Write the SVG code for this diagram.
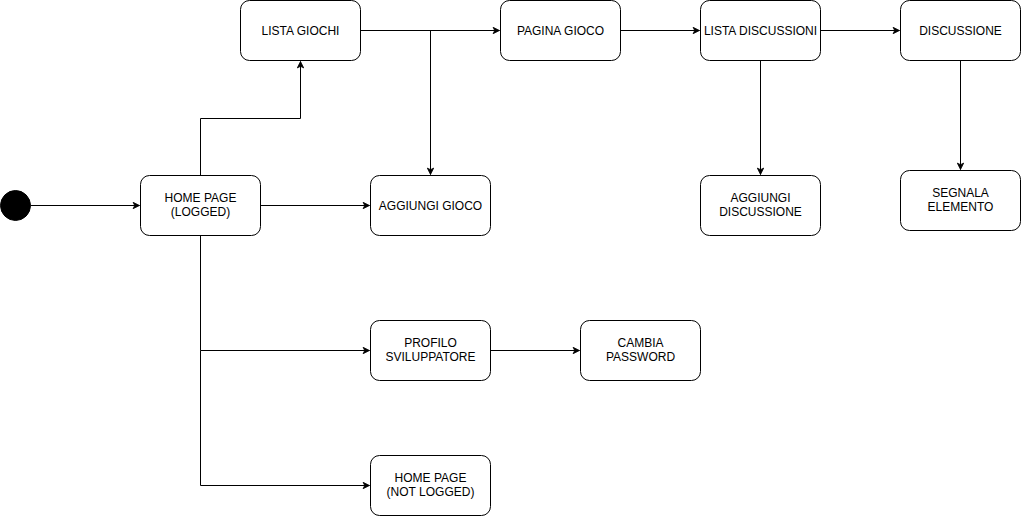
<svg xmlns="http://www.w3.org/2000/svg" width="1021" height="516" viewBox="0 0 1021 516">
  <style>
    .node rect { fill: #ffffff; stroke: #000000; stroke-width: 1; }
    .node text { font-family: "Liberation Sans", Arial, sans-serif; font-size: 12px; fill: #000000; text-anchor: middle; }
    .edges path { fill: none; stroke: #000000; stroke-width: 1; marker-end: url(#arrow); }
  </style>
  <defs>
    <marker id="arrow" viewBox="0 0 10 10" refX="9" refY="5" markerWidth="8" markerHeight="8" markerUnits="userSpaceOnUse" orient="auto">
      <path d="M1,1 L9,5 L1,9 L3,5 Z" fill="#000000" stroke="#000000" stroke-width="1"/>
    </marker>
  </defs>

  <rect width="1021" height="516" fill="#ffffff"/>

  <g class="edges" id="connectors">
    <path d="M30.5,205.5 L139.5,205.5"/>
    <path d="M200.5,175.5 L200.5,118.5 L300.5,118.5 L300.5,61.5"/>
    <path d="M260.5,205.5 L369.5,205.5"/>
    <path d="M360.5,30.5 L499.5,30.5"/>
    <path d="M430.5,30.5 L430.5,174.5"/>
    <path d="M620.5,30.5 L699.5,30.5"/>
    <path d="M820.5,30.5 L899.5,30.5"/>
    <path d="M760.5,60.5 L760.5,174.5"/>
    <path d="M960.5,60.5 L960.5,169.5"/>
    <path d="M200.5,235.5 L200.5,350.5 L369.5,350.5"/>
    <path d="M200.5,350.5 L200.5,485.5 L369.5,485.5"/>
    <path d="M490.5,350.5 L579.5,350.5"/>
  </g>

  <g id="start">
    <circle cx="15.5" cy="205.5" r="15" fill="#000000" stroke="#000000"/>
  </g>

  <g class="node" id="home-logged">
    <rect x="140.5" y="175.5" width="120" height="60" rx="9"/>
    <text x="200.5" y="202">HOME PAGE</text>
    <text x="200.5" y="216">(LOGGED)</text>
  </g>

  <g class="node" id="lista-giochi">
    <rect x="240.5" y="0.5" width="120" height="60" rx="9"/>
    <text x="300.5" y="34.5">LISTA GIOCHI</text>
  </g>

  <g class="node" id="pagina-gioco">
    <rect x="500.5" y="0.5" width="120" height="60" rx="9"/>
    <text x="560.5" y="34.5">PAGINA GIOCO</text>
  </g>

  <g class="node" id="lista-discussioni">
    <rect x="700.5" y="0.5" width="120" height="60" rx="9"/>
    <text x="760.5" y="34.5">LISTA DISCUSSIONI</text>
  </g>

  <g class="node" id="discussione">
    <rect x="900.5" y="0.5" width="120" height="60" rx="9"/>
    <text x="960.5" y="34.5">DISCUSSIONE</text>
  </g>

  <g class="node" id="aggiungi-gioco">
    <rect x="370.5" y="175.5" width="120" height="60" rx="9"/>
    <text x="430.5" y="209.5">AGGIUNGI GIOCO</text>
  </g>

  <g class="node" id="aggiungi-discussione">
    <rect x="700.5" y="175.5" width="120" height="60" rx="9"/>
    <text x="760.5" y="202">AGGIUNGI</text>
    <text x="760.5" y="216">DISCUSSIONE</text>
  </g>

  <g class="node" id="segnala-elemento">
    <rect x="900.5" y="170.5" width="120" height="60" rx="9"/>
    <text x="960.5" y="197">SEGNALA</text>
    <text x="960.5" y="211">ELEMENTO</text>
  </g>

  <g class="node" id="profilo-sviluppatore">
    <rect x="370.5" y="320.5" width="120" height="60" rx="9"/>
    <text x="430.5" y="347">PROFILO</text>
    <text x="430.5" y="361">SVILUPPATORE</text>
  </g>

  <g class="node" id="cambia-password">
    <rect x="580.5" y="320.5" width="120" height="60" rx="9"/>
    <text x="640.5" y="347">CAMBIA</text>
    <text x="640.5" y="361">PASSWORD</text>
  </g>

  <g class="node" id="home-not-logged">
    <rect x="370.5" y="455.5" width="120" height="60" rx="9"/>
    <text x="430.5" y="482">HOME PAGE</text>
    <text x="430.5" y="496">(NOT LOGGED)</text>
  </g>
</svg>
